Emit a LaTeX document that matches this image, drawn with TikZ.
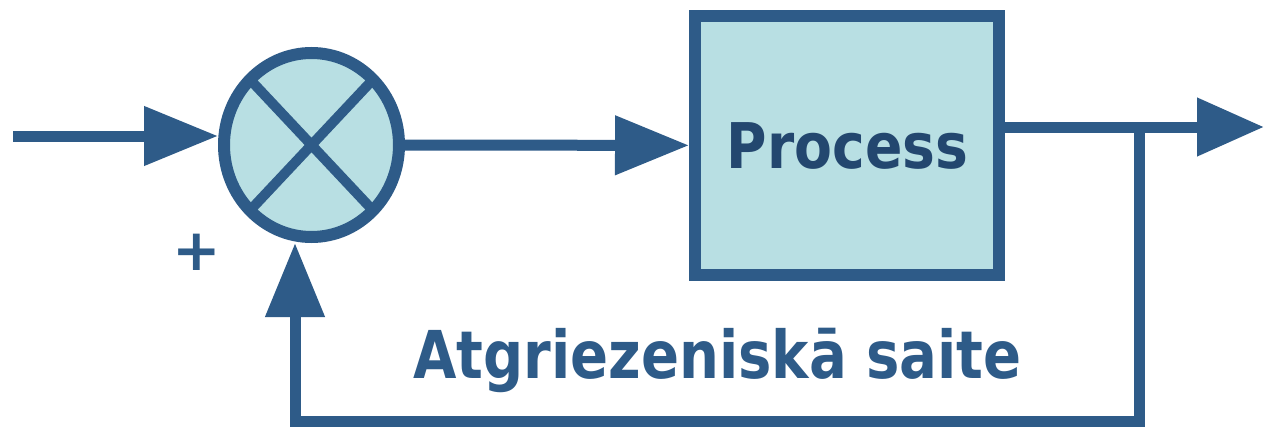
\documentclass[tikz,border=0pt]{standalone}
\usepackage{fontspec}
\usepackage{graphicx}
\setmainfont{DejaVu Sans}
\usetikzlibrary{arrows.meta,shapes.geometric,calc}
\definecolor{lineblue}{HTML}{2E5B88}
\definecolor{fillblue}{HTML}{B8DFE3}
\definecolor{textblue}{HTML}{23476F}
\tikzset{
  wire/.style={draw=lineblue,line width=11pt},
  bigarrow/.style={-{Triangle[length=74pt,width=57pt]}},
  outarrow/.style={-{Triangle[length=67pt,width=56pt]}},
  sumnode/.style={ellipse,draw=lineblue,fill=fillblue,line width=12pt,minimum width=175pt,minimum height=184pt,inner sep=0pt},
  procnode/.style={rectangle,draw=lineblue,fill=fillblue,line width=12pt,minimum width=304pt,minimum height=259pt,inner sep=0pt},
  crossline/.style={draw=lineblue,line width=10pt}
}
\begin{document}
\begin{tikzpicture}[x=1pt,y=-1pt]
\useasboundingbox (0,0) rectangle (1264,428);
\node[sumnode] (sum) at (311.5,145) {};
\draw[crossline] ([shift={(-62,-66)}]sum.center) -- ([shift={(62,66)}]sum.center);
\draw[crossline] ([shift={(62,-66)}]sum.center) -- ([shift={(-62,66)}]sum.center);
\node[procnode] (proc) at (847,145.5) {};
\node[anchor=base,text=textblue,inner sep=0pt] (proctext) at (847.5,168) {\scalebox{0.876}[1]{\fontsize{63}{70}\selectfont\bfseries Process}};
\coordinate (in) at (13,136);
\coordinate (out) at (1264,127);
\coordinate (br) at (1139.5,127);
\coordinate (bl) at (295,421);
\draw[wire,bigarrow] (in) -- (in -| sum.west);
\draw[wire,bigarrow] (sum) -- (proc);
\draw[wire,outarrow] (proc.east |- out) -- (out);
\draw[wire,bigarrow] (br) |- (bl) -- (bl |- sum.south);
\node[anchor=base,text=lineblue,inner sep=0pt] (plus) at (197,270) {\fontsize{58}{64}\selectfont\bfseries +};
\node[anchor=base,text=lineblue,inner sep=0pt] (fblabel) at (717.5,378) {\scalebox{0.85}[1]{\fontsize{66}{72}\selectfont\bfseries Atgriezeniskā saite}};
\end{tikzpicture}
\end{document}
